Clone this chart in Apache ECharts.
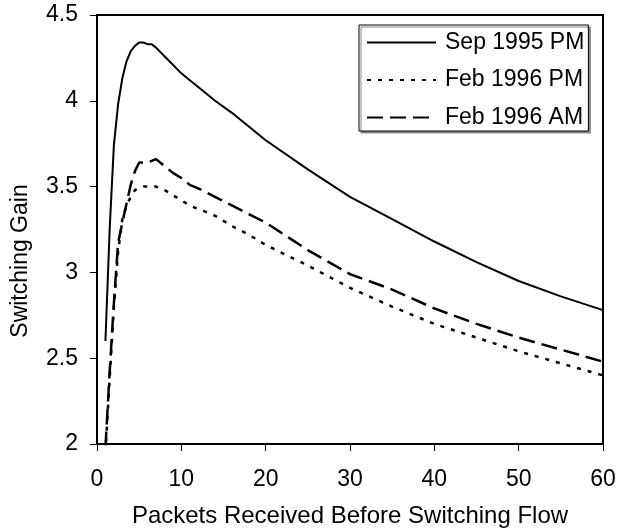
<!DOCTYPE html>
<html>
<head>
<meta charset="utf-8">
<script src="https://cdn.jsdelivr.net/npm/echarts@6/dist/echarts.min.js"></script>
<style>
  html, body { margin: 0; padding: 0; background: #fff; }
  #chart { width: 618px; height: 529px; }
</style>
</head>
<body>
<div id="chart"></div>
<script>
// packets received (x) - same x grid for all three curves
const packets = [1, 1.5, 2, 2.5, 3, 3.5, 4, 4.5, 5, 5.5, 6, 6.5, 7, 8, 9, 10, 11, 12, 14, 16, 18, 20, 25, 30, 35, 40, 45, 50, 55, 60];

const sep95pm = [2.60, 3.25, 3.74, 3.98, 4.13, 4.23, 4.29, 4.32, 4.34, 4.34, 4.33, 4.33, 4.31, 4.26, 4.21, 4.16, 4.12, 4.08, 4.00, 3.93, 3.85, 3.77, 3.60, 3.44, 3.31, 3.18, 3.06, 2.95, 2.86, 2.78];
const feb96pm = [1.95, 2.38, 2.80, 3.12, 3.31, 3.39, 3.44, 3.48, 3.49, 3.50, 3.50, 3.50, 3.50, 3.48, 3.45, 3.42, 3.39, 3.37, 3.33, 3.27, 3.22, 3.16, 3.04, 2.91, 2.80, 2.70, 2.62, 2.54, 2.47, 2.40];
const feb96am = [1.98, 2.42, 2.82, 3.17, 3.29, 3.40, 3.51, 3.59, 3.64, 3.64, 3.64, 3.65, 3.66, 3.62, 3.58, 3.55, 3.51, 3.49, 3.44, 3.39, 3.34, 3.29, 3.13, 2.99, 2.90, 2.79, 2.70, 2.62, 2.55, 2.48];

const seriesNames = ["Sep 1995 PM", "Feb 1996 PM", "Feb 1996 AM"];
const xTitle = "Packets Received Before Switching Flow";
const yTitle = "Switching Gain";

const font = "Arial, 'Liberation Sans', sans-serif";

function pairs(ys) {
  return packets.map((x, i) => [x, ys[i]]);
}

const chart = echarts.init(document.getElementById("chart"));

const option = {
  animation: false,
  backgroundColor: "#fff",
  textStyle: { fontFamily: font, color: "#000" },
  grid: {
    left: 97, right: 15, top: 15, bottom: 85,
    // keep the plot box fixed, don't let labels push it in
    outerBoundsMode: "none",
    containLabel: false,
    show: true, borderColor: "#000", borderWidth: 2
  },
  legend: {
    orient: "vertical",
    left: 359,
    top: 25,
    padding: [6, 4, 2, 7],
    itemWidth: 69,
    itemHeight: 14,
    itemGap: 14.5,
    // hide the marker dot, keep only the line sample
    itemStyle: { opacity: 0 },
    backgroundColor: "#fff",
    borderColor: "#000",
    borderWidth: 1,
    shadowColor: "#888",
    shadowOffsetX: 2,
    shadowOffsetY: 2,
    shadowBlur: 0,
    textStyle: { fontFamily: font, fontSize: 23, color: "#000", padding: [0, 0, 0, 4] },
    data: seriesNames
  },
  xAxis: {
    type: "value",
    min: 0, max: 60, interval: 10,
    name: xTitle,
    nameLocation: "middle",
    nameGap: 60,
    nameTextStyle: { fontFamily: font, fontSize: 24, color: "#000" },
    axisLine: { show: true, lineStyle: { color: "#000", width: 2 } },
    axisTick: { show: true, length: 7, lineStyle: { color: "#000", width: 1 } },
    axisLabel: { fontFamily: font, fontSize: 23, color: "#000", margin: 24 },
    splitLine: { show: false }
  },
  yAxis: {
    type: "value",
    min: 2, max: 4.5, interval: 0.5,
    axisLine: { show: true, lineStyle: { color: "#000", width: 2 } },
    axisTick: { show: true, length: 7, lineStyle: { color: "#000", width: 1 } },
    axisLabel: { fontFamily: font, fontSize: 23, color: "#000", margin: 19 },
    splitLine: { show: false }
  },
  // y title sits a bit below the plot middle, like the original
  graphic: [
    {
      type: "text",
      x: 21,
      y: 261,
      rotation: Math.PI / 2,
      style: {
        text: yTitle,
        font: "23px " + font,
        fill: "#000",
        align: "center",
        verticalAlign: "middle"
      }
    }
  ],
  series: [
    {
      name: seriesNames[0],
      type: "line",
      symbol: "none",
      data: pairs(sep95pm),
      lineStyle: { color: "#000", width: 2, type: "solid" },
      itemStyle: { color: "#000" }
    },
    {
      name: seriesNames[1],
      type: "line",
      symbol: "none",
      data: pairs(feb96pm),
      lineStyle: { color: "#000", width: 2.5, type: [4, 7] },
      itemStyle: { color: "#000" }
    },
    {
      name: seriesNames[2],
      type: "line",
      symbol: "none",
      data: pairs(feb96am),
      lineStyle: { color: "#000", width: 2.5, type: [16, 7] },
      itemStyle: { color: "#000" }
    }
  ]
};

chart.setOption(option);
</script>
</body>
</html>
